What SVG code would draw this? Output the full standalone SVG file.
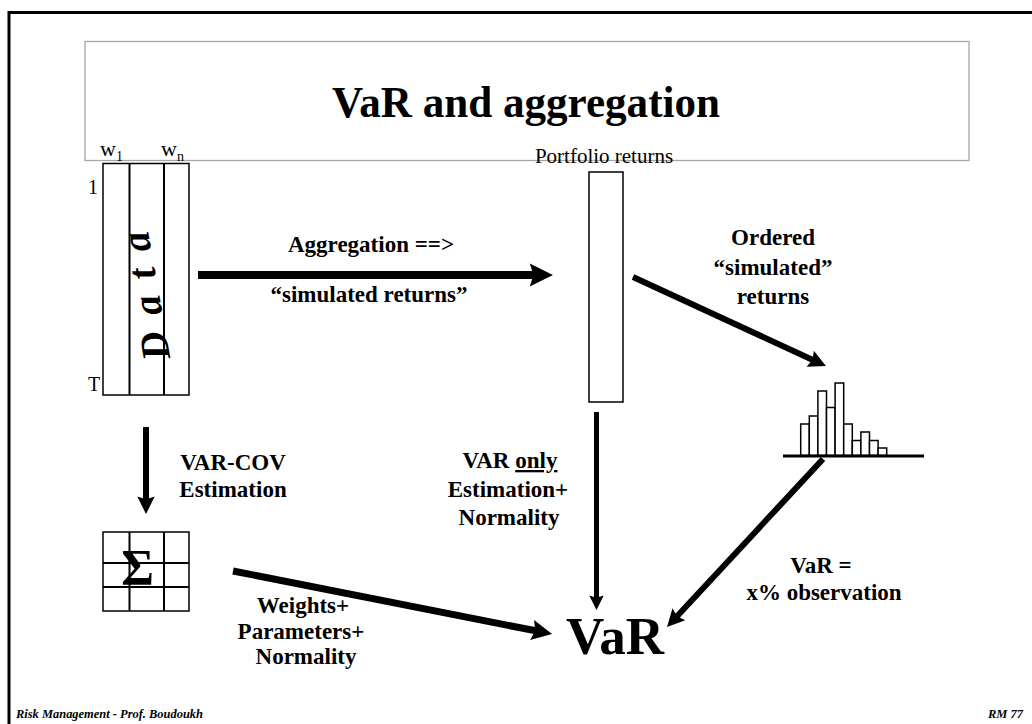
<svg xmlns="http://www.w3.org/2000/svg" width="1032" height="724" viewBox="0 0 1032 724">
<style>
  text { font-family: "Liberation Serif", "Times New Roman", serif; fill: #000; }
  .lbl { font-size: 23px; font-weight: bold; text-anchor: middle; }
  .thin { fill: #fff; stroke: #000; stroke-width: 1.5; }
  .grid { stroke: #000; stroke-width: 2; fill: none; }
  .conn { stroke: #000; fill: none; marker-end: url(#ah); }
  .foot { font-size: 12.5px; font-weight: bold; font-style: italic; }
</style>
<defs>
  <marker id="ah" markerUnits="strokeWidth" viewBox="0 -1.6 3.2 3.2" markerWidth="3.2" markerHeight="3.2" refX="0.9" refY="0" orient="auto" overflow="visible">
    <path d="M0,-1.45 L2.9,0 L0,1.45 L0.45,0 Z" fill="#000"/>
  </marker>
</defs>
<rect width="1032" height="724" fill="#fff"/>
<g id="frame">
  <path d="M9,724 V12.5 H1032" fill="none" stroke="#000" stroke-width="3"/>
</g>
<g id="title">
  <rect x="85" y="41.5" width="884" height="119" fill="none" stroke="#a6a6a6" stroke-width="1.3"/>
  <text x="526" y="117" font-size="45" font-weight="bold" text-anchor="middle" textLength="388" lengthAdjust="spacingAndGlyphs">VaR and aggregation</text>
</g>
<g id="data">
  <rect class="thin" x="103" y="163.5" width="86" height="231.5"/>
  <path class="grid" d="M129.5,163.5 V395 M164,163.5 V395"/>
  <text x="100" y="156" font-size="22">w<tspan font-size="14" dy="5">1</tspan></text>
  <text x="161" y="156" font-size="22">w<tspan font-size="14" dy="5">n</tspan></text>
  <text x="88" y="194" font-size="20">1</text>
  <text x="88" y="391" font-size="20">T</text>
  <text transform="translate(159,294) rotate(-100)" font-size="40" font-weight="bold" font-style="italic" text-anchor="middle" textLength="130" lengthAdjust="spacing">D a t a</text>
</g>
<g id="portfolio">
  <rect class="thin" x="589" y="172" width="34" height="230"/>
  <text x="604" y="163" font-size="21" text-anchor="middle">Portfolio returns</text>
</g>
<g id="histogram">
  <g class="thin">
    <rect x="800.7" y="424" width="8.6" height="31.5"/>
    <rect x="809.3" y="416" width="8.6" height="39.5"/>
    <rect x="817.9" y="391" width="8.6" height="64.5"/>
    <rect x="826.5" y="407.5" width="8.6" height="48"/>
    <rect x="835.1" y="383" width="8.6" height="72.5"/>
    <rect x="843.7" y="424" width="8.6" height="31.5"/>
    <rect x="852.3" y="440.5" width="8.6" height="15"/>
    <rect x="860.9" y="432" width="8.6" height="23.5"/>
    <rect x="869.5" y="440.5" width="8.6" height="15"/>
    <rect x="878.1" y="448" width="8.6" height="7.5"/>
  </g>
  <path d="M783,456 H924" stroke="#000" stroke-width="3"/>
</g>
<g id="sigma">
  <rect class="thin" x="103" y="532" width="86" height="79"/>
  <path class="grid" d="M129.5,532 V611 M164,532 V611 M103,563 H189 M103,587 H189"/>
  <text x="137.5" y="584" font-size="50" font-weight="bold" text-anchor="middle">Σ</text>
</g>
<g id="var">
  <text x="615" y="654" font-size="53" font-weight="bold" text-anchor="middle">VaR</text>
</g>
<g id="connectors">
  <path class="conn" stroke-width="8" d="M198,275 H537"/>
  <path class="conn" stroke-width="6" d="M633,277 L815.1,361"/>
  <path class="conn" stroke-width="6" d="M823,459 L675.2,618.2"/>
  <path class="conn" stroke-width="5" d="M596.5,412 V600"/>
  <path class="conn" stroke-width="7" d="M233,571 L538.3,631.3"/>
  <path class="conn" stroke-width="6" d="M146,427 V502"/>
</g>
<g id="labels">
  <text class="lbl" x="371" y="252">Aggregation ==&gt;</text>
  <text class="lbl" x="369" y="302">“simulated returns”</text>
  <text class="lbl" x="773" y="245">Ordered</text>
  <text class="lbl" x="773" y="275">“simulated”</text>
  <text class="lbl" x="773" y="304">returns</text>
  <text class="lbl" x="233" y="470">VAR-COV</text>
  <text class="lbl" x="233" y="497">Estimation</text>
  <text class="lbl" x="510" y="468">VAR <tspan text-decoration="underline">only</tspan></text>
  <text class="lbl" x="508" y="497">Estimation+</text>
  <text class="lbl" x="509" y="525">Normality</text>
  <text class="lbl" x="303" y="613">Weights+</text>
  <text class="lbl" x="301" y="639">Parameters+</text>
  <text class="lbl" x="306" y="664">Normality</text>
  <text class="lbl" x="821" y="573">VaR =</text>
  <text class="lbl" x="824" y="600">x% observation</text>
</g>
<g id="footer">
  <text class="foot" x="16" y="718" textLength="187" lengthAdjust="spacingAndGlyphs">Risk Management  -  Prof. Boudoukh</text>
  <text class="foot" x="1023" y="718" text-anchor="end">RM  77</text>
</g>
</svg>
